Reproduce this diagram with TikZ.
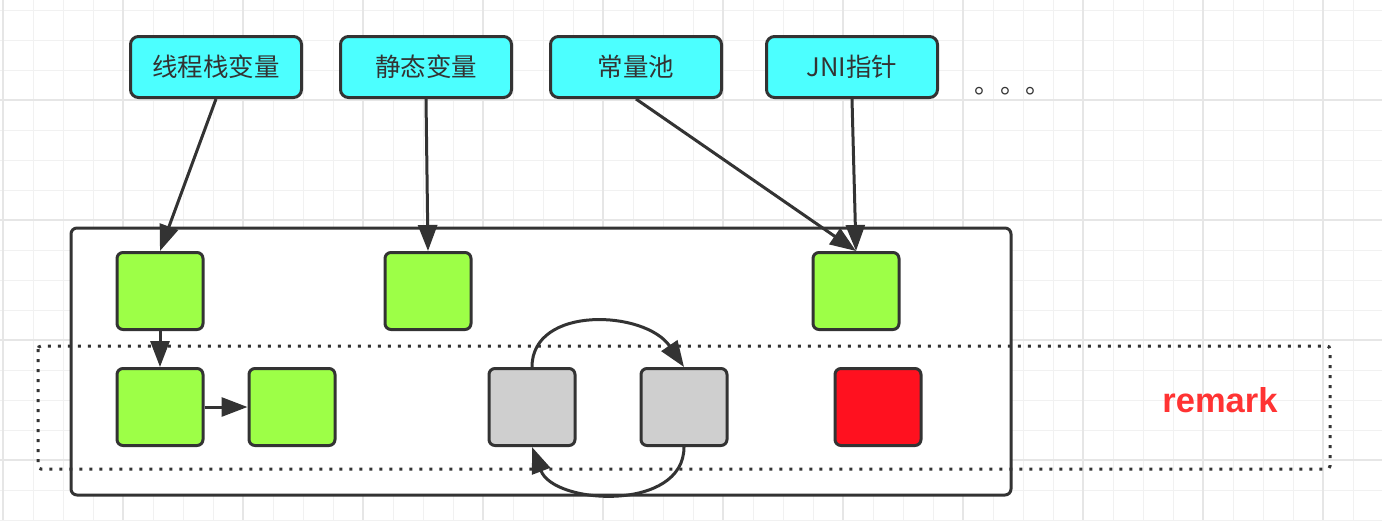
\documentclass[tikz,border=0pt]{standalone}
\usepackage{fontspec}
\setmainfont{Liberation Sans}
\newfontfamily\cjk{Noto Sans CJK SC}
\usetikzlibrary{arrows.meta}
\definecolor{ink}{HTML}{333333}
\definecolor{rootcyan}{HTML}{4CFFFF}
\definecolor{livegreen}{HTML}{9DFF47}
\definecolor{loopgray}{HTML}{CFCFCF}
\definecolor{deadred}{HTML}{FF111F}
\definecolor{markred}{HTML}{FF3333}
\definecolor{gridminor}{HTML}{F1F1F1}
\definecolor{gridmajor}{HTML}{E6E6E6}

\begin{document}
\begin{tikzpicture}[x=1pt,y=-1pt,
  root/.style={draw=ink,line width=3pt,fill=rootcyan,rounded corners=8pt,minimum width=171pt,minimum height=61pt,inner sep=0pt,text=ink,font=\cjk\fontsize{25.5}{30}\selectfont},
  obj/.style={draw=ink,line width=3pt,rounded corners=6pt,minimum width=86pt,minimum height=77pt,inner sep=0pt},
  liveobj/.style={obj,fill=livegreen},
  loopobj/.style={obj,fill=loopgray},
  deadobj/.style={obj,fill=deadred},
  arr/.style={draw=ink,line width=3pt,-{Triangle[length=26pt,width=19pt]}}]
\useasboundingbox (0,0) rectangle (1382,520);
\fill[white] (0,0) rectangle (1382,520);
\foreach \x in {3,33,...,1383}
\draw[gridminor,line width=1pt] (\x,0) -- (\x,520);
\foreach \y in {10,40,...,520}
\draw[gridminor,line width=1pt] (0,\y) -- (1382,\y);
\foreach \x in {3,123,...,1383}
\draw[gridmajor,line width=1.5pt] (\x,0) -- (\x,520);
\foreach \y in {100,220,340,460}
\draw[gridmajor,line width=1.5pt] (0,\y) -- (1382,\y);

\draw[ink,line width=3pt,fill=white,rounded corners=6pt] (71,228) rectangle (1011,495);
\draw[ink,line width=3pt,dash pattern=on 3pt off 7pt,rounded corners=3pt] (38,346) rectangle (1330,469);

\node[root] (thread) at (216,67) {线程栈变量};
\node[root] (static) at (426,67) {静态变量};
\node[root] (const) at (636,67) {常量池};
\node[root] (jni) at (852,67) {JNI指针};
\node[anchor=base west,text=ink,font=\cjk\fontsize{25.5}{30}\selectfont] (more) at (971,93) {。。。};

\node[liveobj] (obj1) at (160,291) {};
\node[liveobj] (obj2) at (428,291) {};
\node[liveobj] (obj3) at (856,291) {};
\node[liveobj] (obj4) at (160,407) {};
\node[liveobj] (obj5) at (292,407) {};
\node[loopobj] (obj6) at (532,407) {};
\node[loopobj] (obj7) at (684,407) {};
\node[deadobj] (obj8) at (878,407) {};

\node[anchor=base,text=markred,font=\bfseries\fontsize{34.5}{41}\selectfont] (remark) at (1220,412) {remark};

\foreach \from/\to in {thread/obj1,static/obj2,const/obj3,jni/obj3,obj1/obj4}
\draw[arr] (\from.south) -- (\to.north);
\draw[arr] (obj4.east) -- (obj5.west);
\draw[arr] (obj6.north) .. controls +(0,-62) and +(-39,-57) .. (obj7.north);
\draw[arr] (obj7.south) .. controls +(0,65) and +(22,58) .. (obj6.south);
\end{tikzpicture}
\end{document}
